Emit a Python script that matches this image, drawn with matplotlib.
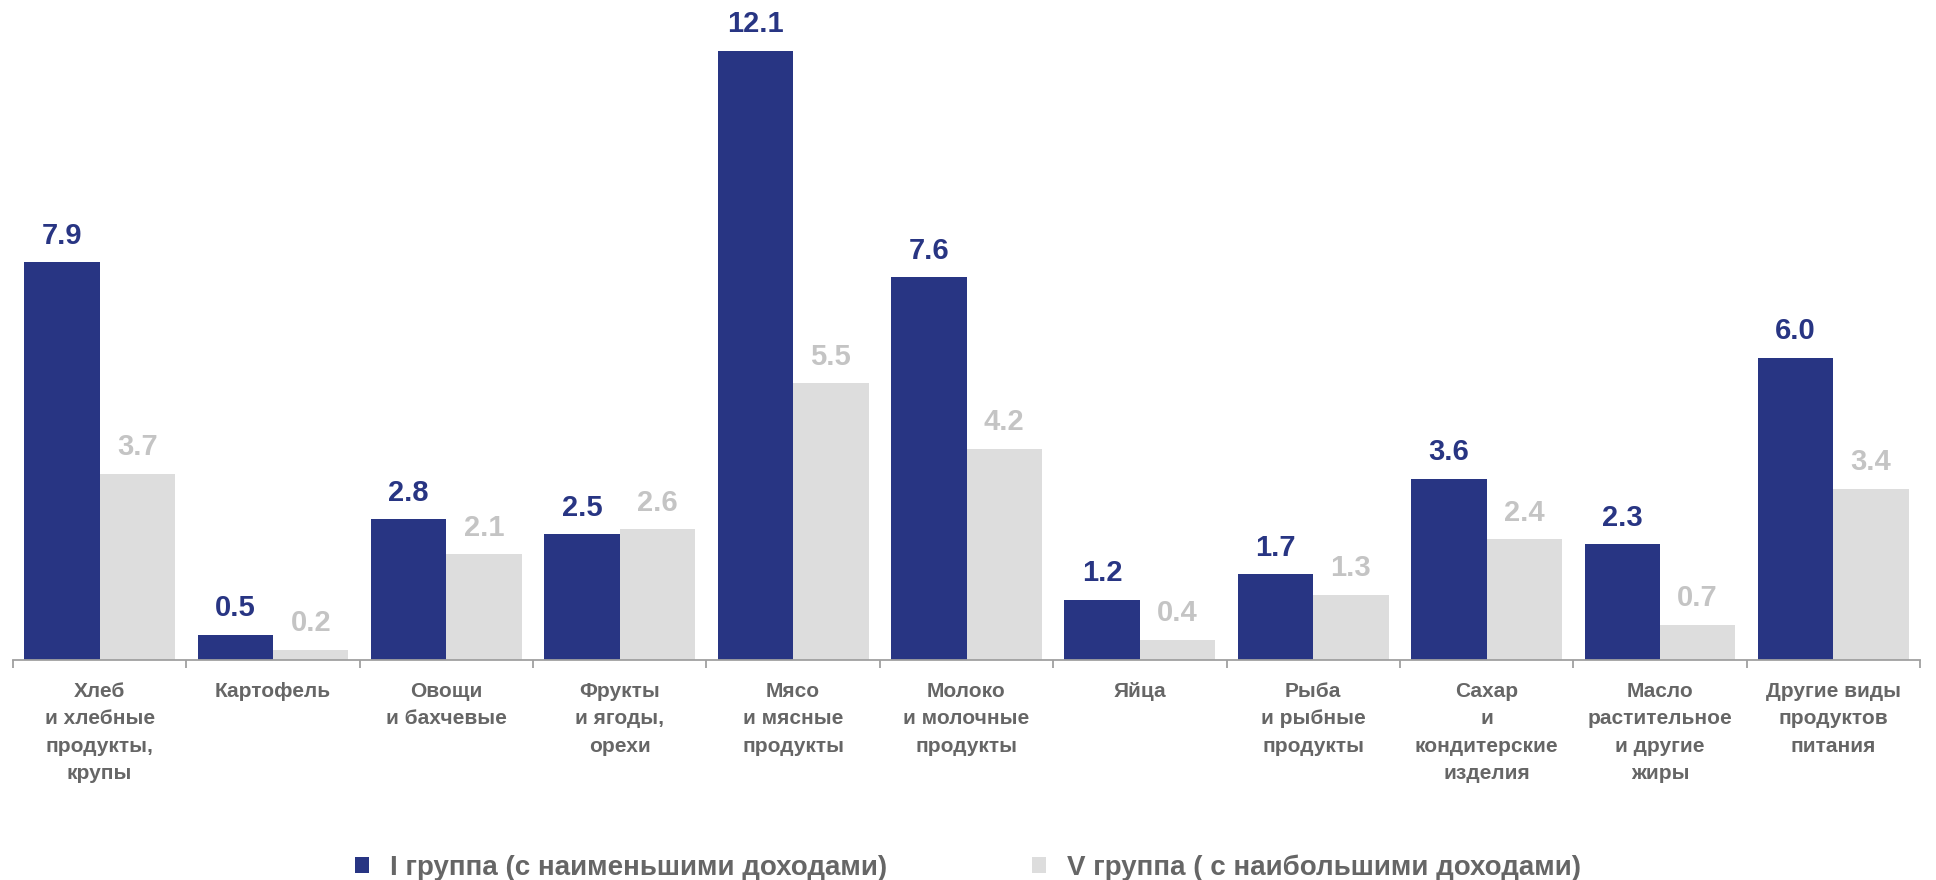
import matplotlib.pyplot as plt
import numpy as np

categories = [
    "Хлеб\nи хлебные\nпродукты,\nкрупы",
    "Картофель",
    "Овощи\nи бахчевые",
    "Фрукты\nи ягоды,\nорехи",
    "Мясо\nи мясные\nпродукты",
    "Молоко\nи молочные\nпродукты",
    "Яйца",
    "Рыба\nи рыбные\nпродукты",
    "Сахар\nи\nкондитерские\nизделия",
    "Масло\nрастительное\nи другие\nжиры",
    "Другие виды\nпродуктов\nпитания",
]
group_low = [7.9, 0.5, 2.8, 2.5, 12.1, 7.6, 1.2, 1.7, 3.6, 2.3, 6.0]
group_high = [3.7, 0.2, 2.1, 2.6, 5.5, 4.2, 0.4, 1.3, 2.4, 0.7, 3.4]
legend_labels = ["I группа (с наименьшими доходами)", "V группа ( с наибольшими доходами)"]

plt.rcParams["font.family"] = ["Liberation Sans", "DejaVu Sans"]

navy = "#283583"
light = "#DDDDDD"
light_text = "#C4C4C4"
gray_text = "#666666"

fig = plt.figure(figsize=(19.36, 8.8), dpi=100)
ax = fig.add_axes([13 / 1936, 220 / 880, 1907 / 1936, 640 / 880])

x = np.arange(len(categories))
w = 0.435
b1 = ax.bar(x - w / 2, group_low, w, color=navy, label=legend_labels[0])
b2 = ax.bar(x + w / 2, group_high, w, color=light, label=legend_labels[1])

ax.bar_label(b1, fmt="%.1f", padding=9, color=navy, fontsize=21, fontweight="bold")
ax.bar_label(b2, fmt="%.1f", padding=9, color=light_text, fontsize=21, fontweight="bold")

ax.set_xlim(-0.5, len(categories) - 0.5)
ax.set_ylim(0, 12.71)
ax.set_yticks([])
for s in ["top", "left", "right"]:
    ax.spines[s].set_visible(False)
ax.spines["bottom"].set_color("#A0A0A0")
ax.spines["bottom"].set_linewidth(1.3)

ax.set_xticks(x)
ax.set_xticklabels(categories, fontsize=15, fontweight="bold", color=gray_text, linespacing=1.55)
ax.tick_params(axis="x", which="major", length=0, pad=16)
ax.set_xticks(np.arange(-0.5, len(categories)), minor=True)
ax.tick_params(axis="x", which="minor", length=6, color="#A0A0A0", width=1.3)

leg = fig.legend(
    loc="center", bbox_to_anchor=(0.5, 12 / 880), ncol=2, frameon=False,
    fontsize=20, handlelength=0.5, handleheight=0.5, handletextpad=0.75, columnspacing=5.2,
)
for t in leg.get_texts():
    t.set_color(gray_text)
    t.set_fontweight("bold")

fig.savefig("out.png", dpi=100)
